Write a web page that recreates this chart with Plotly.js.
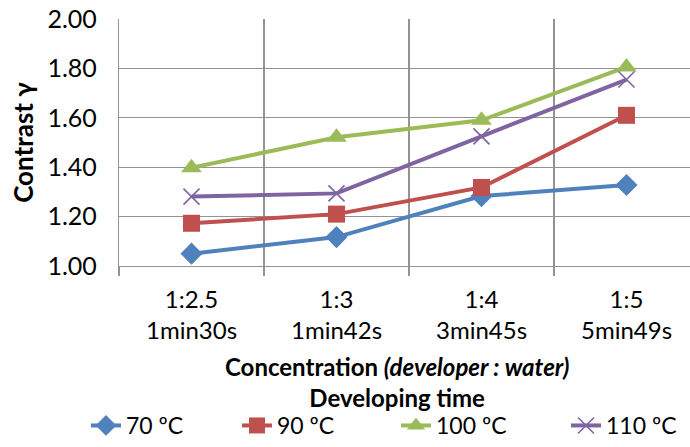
<!DOCTYPE html>
<html><head><meta charset="utf-8">
<script src="https://cdn.plot.ly/plotly-3.0.1.min.js"></script>
<style>body{margin:0;background:#fff}#c{width:690px;height:447px}</style>
</head><body><div id="c"></div>
<script>
var categories = ["1:2.5<br>1min30s", "1:3<br>1min42s", "1:4<br>3min45s", "1:5<br>5min49s"];
var seriesNames = ["70 ºC", "90 ºC", "100 ºC", "110 ºC"];
var xTitle = "<b>Concentration <i>(developer : water)</i></b><br><b>Developing time</b>";
var yTitle = "<b>Contrast γ</b>";
var v70 = [1.05, 1.117, 1.283, 1.328];
var v90 = [1.173, 1.21, 1.318, 1.61];
var v100 = [1.398, 1.521, 1.59, 1.806];
var v110 = [1.281, 1.294, 1.525, 1.755];
var colors = ["#4F81BD", "#C0504D", "#9BBB59", "#8064A2"];
var symbols = ["diamond", "square", "triangle-up", "x-thin"];
var sizes = [17, 17, 18, 16];
var vals = [v70, v90, v100, v110];
var legendX = [86, 237, 396, 566];

var font = "Lato, 'Open Sans', sans-serif";
var legendIds = ["legend", "legend2", "legend3", "legend4"];
var traces = vals.map(function(v, i){
  var m = {symbol: symbols[i], size: sizes[i], color: colors[i]};
  if (symbols[i] === "x-thin") m.line = {color: colors[i], width: 1.6};
  return {x: categories, y: v, name: seriesNames[i], type: "scatter", mode: "lines+markers",
    line: {color: colors[i], width: 4}, marker: m, cliponaxis: false, legend: legendIds[i]};
});

var layout = {
  width: 690, height: 447,
  margin: {l: 119, r: 0, t: 19, b: 181},
  paper_bgcolor: "#fff", plot_bgcolor: "#fff",
  font: {family: font, color: "#000"},
  showlegend: true,
  xaxis: {
    type: "category", tickson: "boundaries", range: [-0.5, 3.438],
    showgrid: true, gridcolor: "#939393", gridwidth: 1.2,
    showline: true, linecolor: "#939393", linewidth: 1.2,
    ticks: "outside", ticklen: 9, tickcolor: "#939393", tickwidth: 1.2,
    ticklabelstandoff: 12,
    tickfont: {size: 24, family: font},
    fixedrange: true
  },
  yaxis: {
    range: [1, 2], dtick: 0.2, tickformat: ".2f",
    showgrid: true, gridcolor: "#939393", gridwidth: 1.2,
    showline: true, linecolor: "#939393", linewidth: 1.2,
    ticks: "outside", ticklen: 16, tickcolor: "rgba(0,0,0,0)",
    tickfont: {size: 25, family: font},
    zeroline: false,
    title: {text: yTitle, font: {size: 26, family: font}, standoff: 6}
  },
  annotations: [{
    text: xTitle, xref: "paper", yref: "paper", x: 0.487, y: -0.47,
    xanchor: "center", yanchor: "middle", showarrow: false,
    font: {size: 24, family: font}
  }]
};
legendIds.forEach(function(id, i){
  layout[id] = {orientation: "h", xref: "container", yref: "container", x: legendX[i] / 690,
    xanchor: "left", y: 0, yanchor: "bottom", font: {size: 23, family: font},
    bgcolor: "rgba(0,0,0,0)"};
});
Plotly.newPlot("c", traces, layout, {displayModeBar: false, staticPlot: true});
</script></body></html>
